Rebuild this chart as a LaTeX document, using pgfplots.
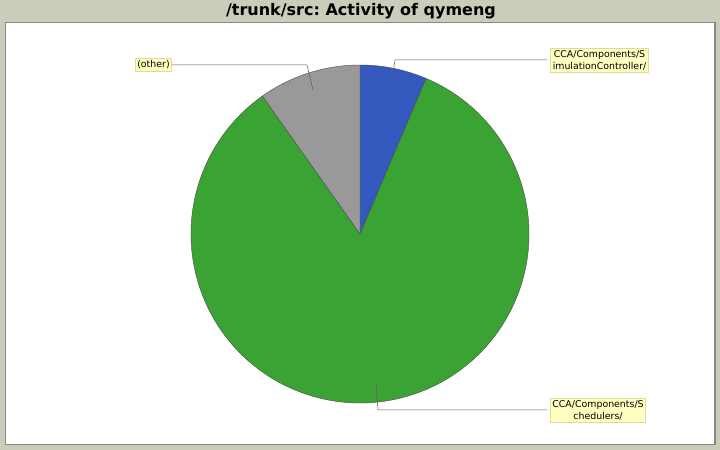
\documentclass[border=0pt]{standalone}
\usepackage{pgfplots}
\pgfplotsset{compat=1.18}
\usepackage{fontspec}
\setmainfont{DejaVu Sans}
\frenchspacing
\definecolor{bgbeige}{RGB}{204,204,187}
\definecolor{frameg}{RGB}{136,136,136}
\definecolor{sliceblue}{RGB}{51,89,190}
\definecolor{slicegreen}{RGB}{58,163,52}
\definecolor{slicegray}{RGB}{153,153,153}
\definecolor{lblfill}{RGB}{255,255,192}
\definecolor{lbldraw}{RGB}{220,220,160}
% slice shares in percent (clockwise from 12 o'clock)
\def\pBlue{6.4}
\def\pGreen{83.8}
\def\pGray{9.8}
\begin{document}
\begin{tikzpicture}
\begin{axis}[scale only axis, width=720bp, height=450bp,
  xmin=0, xmax=720, ymin=0, ymax=450, hide axis, clip=false]
\fill[bgbeige] (axis cs:0,0) rectangle (axis cs:720,450);
\filldraw[fill=white, draw=frameg, line width=1.2bp] (axis cs:5.5,5.5) rectangle (axis cs:715,427.5);
\node[font=\fontsize{16bp}{18bp}\selectfont\bfseries] at (axis cs:361,438.5) {/trunk/src: Activity of qymeng};
\pgfmathsetmacro{\aA}{90}
\pgfmathsetmacro{\aB}{90-3.6*\pBlue}
\pgfmathsetmacro{\aC}{\aB-3.6*\pGreen}
\pgfmathsetmacro{\aD}{\aC-3.6*\pGray}
\filldraw[fill=sliceblue, draw=black!70, line width=0.4bp] (axis cs:360,216) -- ++(\aA:169bp) arc[start angle=\aA, end angle=\aB, radius=169bp] -- cycle;
\filldraw[fill=slicegreen, draw=black!70, line width=0.4bp] (axis cs:360,216) -- ++(\aB:169bp) arc[start angle=\aB, end angle=\aC, radius=169bp] -- cycle;
\filldraw[fill=slicegray, draw=black!70, line width=0.4bp] (axis cs:360,216) -- ++(\aC:169bp) arc[start angle=\aC, end angle=\aD, radius=169bp] -- cycle;
% leader lines
\draw[black!65, line width=0.5bp] (axis cs:172,385) -- (axis cs:307,385) -- (axis cs:313,360);
\draw[black!65, line width=0.5bp] (axis cs:547,390) -- (axis cs:395,390) -- (axis cs:391,365);
\draw[black!65, line width=0.5bp] (axis cs:547,40) -- (axis cs:378,40) -- (axis cs:376,66);
% labels
\node[fill=lblfill, draw=lbldraw, line width=0.6bp, inner sep=2bp, font=\fontsize{9.4bp}{12bp}\selectfont] at (axis cs:153.5,385) {(other)};
\node[fill=lblfill, draw=lbldraw, line width=0.6bp, inner sep=2bp, align=center, font=\fontsize{9.4bp}{12bp}\selectfont] at (axis cs:599.5,390) {CCA/Components/S\\imulationController/};
\node[fill=lblfill, draw=lbldraw, line width=0.6bp, inner sep=2bp, align=center, font=\fontsize{9.4bp}{12bp}\selectfont] at (axis cs:598,40) {CCA/Components/S\\chedulers/};
\end{axis}
\end{tikzpicture}
\end{document}
